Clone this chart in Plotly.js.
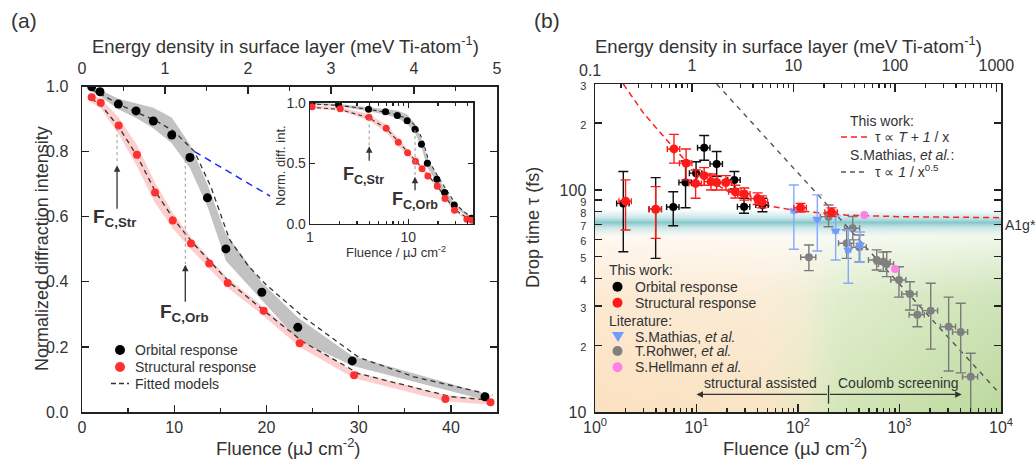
<!DOCTYPE html>
<html><head><meta charset="utf-8">
<script src="https://cdn.plot.ly/plotly-3.0.1.min.js"></script>
<style>html,body{margin:0;padding:0;background:#fff}#chart{width:1035px;height:464px}</style>
</head><body><div id="chart"></div>
<script>
// ---------------- Panel (a) data ----------------
const fluenceOrb = [1.05, 1.95, 3.94, 5.86, 7.73, 9.73, 11.7, 13.6, 15.6, 19.5, 23.4, 29.3, 43.7];
const orbital    = [0.999, 0.984, 0.946, 0.925, 0.894, 0.851, 0.782, 0.658, 0.501, 0.368, 0.260, 0.157, 0.047];
const orbUpper   = [1.0, 0.99, 0.962, 0.948, 0.935, 0.905, 0.822, 0.70, 0.548, 0.398, 0.29, 0.172, 0.057];
const orbLower   = [0.985, 0.97, 0.93, 0.903, 0.872, 0.826, 0.75, 0.632, 0.465, 0.342, 0.222, 0.142, 0.037];
const fluenceStr = [1.05, 2.03, 3.98, 5.96, 7.92, 9.84, 11.82, 13.8, 15.8, 19.7, 23.6, 29.5, 39.4, 44.3];
const structural = [0.967, 0.950, 0.880, 0.790, 0.674, 0.588, 0.518, 0.456, 0.396, 0.311, 0.211, 0.113, 0.040, 0.030];
const strUpper   = [0.978, 0.962, 0.905, 0.82, 0.705, 0.612, 0.537, 0.472, 0.412, 0.322, 0.226, 0.124, 0.052, 0.04];
const strLower   = [0.95, 0.933, 0.853, 0.755, 0.642, 0.564, 0.5, 0.44, 0.382, 0.295, 0.2, 0.104, 0.033, 0.022];
const fitOrbF    = [1, 2, 4, 6, 8, 10, 12.2, 14, 16, 18, 20, 24, 30, 36, 44.5];
const fitOrb     = [0.99, 0.978, 0.945, 0.92, 0.895, 0.862, 0.80, 0.69, 0.53, 0.45, 0.39, 0.292, 0.168, 0.108, 0.052];
const fitStrF    = [1, 2, 4, 6, 8, 10, 12, 14, 16, 20, 24, 30, 40, 44.5];
const fitStr     = [0.962, 0.945, 0.875, 0.785, 0.675, 0.59, 0.52, 0.458, 0.398, 0.305, 0.215, 0.118, 0.047, 0.036];
const extrapF    = [12.2, 20.4];
const extrapY    = [0.80, 0.663];

// ---------------- Panel (b) data ----------------
const strF    = [2.0, 3.96, 6.0, 7.9, 9.8, 11.9, 13.9, 15.8, 19.5, 24.1, 29.6, 40, 44, 106, 214];
const strTau  = [89, 81.8, 153, 132, 107, 116, 109, 108, 108, 98.2, 95.9, 91.4, 88.3, 83.2, 79.3];
const strHi   = [111, 103.5, 178, 153, 123, 126, 118, 116, 116, 105, 102, 97, 94, 87, 83];
const strLo   = [66, 60.5, 132, 111, 91.7, 105, 100, 100, 100, 92, 90, 86, 83, 79.5, 76];
const orbF    = [1.9, 3.96, 5.9, 7.8, 9.9, 11.9, 15.8, 23.6, 29.4, 44.6];
const orbTau  = [87, 81.8, 83.8, 108, 119, 155, 131, 111, 84.1, 85.6];
const orbHi   = [121, 113.6, 98.2, 135, 134, 176, 149, 121, 91.7, 91.7];
const orbLo   = [52.7, 49.2, 69, 83.2, 105, 136, 115, 101, 78.5, 79.8];
const mathF   = [91, 155, 235, 313, 408];
const mathTau = [80.6, 73.8, 65.4, 53.7, 56.5];
const mathHi  = [105.3, 95, 76.4, 66.1, 64.7];
const mathLo  = [54.1, 53.1, 48.4, 38, 47.4];
const rohF    = [128, 200, 302, 346, 402, 596, 692, 748, 988, 1268, 1500, 2030, 3050, 4010, 5030];
const rohTau  = [49.8, 75.8, 57.5, 67.2, 55.2, 48.4, 47.5, 46.4, 39.3, 34.0, 27.4, 28.6, 24.2, 22.9, 14.4];
const rohHi   = [56.5, 85.6, 66.1, 75.9, 62.7, 53.7, 52.5, 52.7, 45.1, 38.6, 30.3, 38.0, 32.9, 30.9, 18.4];
const rohLo   = [43.3, 68.3, 49.2, 59.6, 47.4, 43.6, 43, 40.7, 32.9, 28.8, 24.2, 19.2, 15.3, 15.0, 9.5];
const hellF   = [450, 903];
const hellTau = [77.1, 44.0];
const fitTF   = [1.9, 3, 5.7, 10, 20, 50, 100, 300, 1000, 10000];
const fitTTau = [300, 222, 158, 120, 99, 85, 80.5, 77, 75.8, 75];
const fitMF   = [15.8, 9400];
const fitMTau = [300, 12.3];

// tick labels
const tauTicks = [10, 20, 30, 40, 50, 60, 70, 80, 90, 100, 200, 300];
const tauTickText = ['10','2','3','4','5','6','7','8','9','100','2','3'];
const flTicksB = [1, 10, 100, 1000, 10000];
const flTickTextB = ['10<sup>0</sup>','10<sup>1</sup>','10<sup>2</sup>','10<sup>3</sup>','10<sup>4</sup>'];
const enTicksB = [0.1, 1, 10, 100, 1000];
const enTickTextB = ['0.1','1','10','100','1000'];
const energyPerFluence = 1 / 9;   // meV Ti-atom^-1 per µJ cm^-2 (5 meV ↔ 45 µJ cm^-2)

// ---------------- helpers ----------------
const W = 1035, H = 464;
const X = px => px / W, Y = py => 1 - py / H;
const FONT = 'Liberation Sans, Arial, sans-serif';
const TXT = '#333', AX = '#222';
const diff = (a, b) => a.map((v, i) => v - b[i]);
function minorLog(lo, hi) { const r = []; for (let d = lo; d < hi * 0.999; d *= 10) for (let k = 2; k <= 9; k++) r.push(d * k); return r; }

function band(xs, up, lo, xa, ya, color) {
  return {x: xs.concat(xs.slice().reverse()), y: up.concat(lo.slice().reverse()), mode: 'lines',
    fill: 'toself', fillcolor: color, line: {width: 0}, xaxis: xa, yaxis: ya, hoverinfo: 'skip'};
}
function line(xs, ys, xa, ya, color, dash, width) {
  return {x: xs, y: ys, mode: 'lines', line: {color, dash, width}, xaxis: xa, yaxis: ya};
}
function pts(xs, ys, xa, ya, color, size, symbol) {
  return {x: xs, y: ys, mode: 'markers', marker: {color, size, symbol: symbol || 'circle'}, xaxis: xa, yaxis: ya};
}
function errPts(xs, ys, hi, lo, color, ecolor, size, symbol, xpct) {
  return {x: xs, y: ys, mode: 'markers', xaxis: 'x4', yaxis: 'y4',
    marker: {color, size, symbol: symbol || 'circle'},
    error_y: {type: 'data', array: diff(hi, ys), arrayminus: diff(ys, lo), color: ecolor, thickness: 1.4, width: 5},
    error_x: {type: 'percent', value: xpct, color: ecolor, thickness: 1.4, width: 3}};
}

const GRAYBAND = 'rgba(150,150,150,0.58)', PINKBAND = 'rgba(250,165,165,0.55)';
const FITC = '#333', FITD = '5px,4px';
const RED = '#ff3030';

const traces = [
  // main (a)
  band(fluenceOrb, orbUpper, orbLower, 'x', 'y', GRAYBAND),
  band(fluenceStr, strUpper, strLower, 'x', 'y', PINKBAND),
  line(fitOrbF, fitOrb, 'x', 'y', FITC, FITD, 1.3),
  line(fitStrF, fitStr, 'x', 'y', FITC, FITD, 1.3),
  line(extrapF, extrapY, 'x', 'y', '#1f2ef0', '7px,5px', 1.5),
  pts(fluenceOrb, orbital, 'x', 'y', '#000', 9),
  pts(fluenceStr, structural, 'x', 'y', RED, 8),
  {x: [], y: [], xaxis: 'x2', yaxis: 'y', mode: 'markers'},
  // inset
  band(fluenceOrb, orbUpper, orbLower, 'x3', 'y3', GRAYBAND),
  band(fluenceStr, strUpper, strLower, 'x3', 'y3', PINKBAND),
  line(fitOrbF, fitOrb, 'x3', 'y3', FITC, '4px,3px', 1.1),
  line(fitStrF, fitStr, 'x3', 'y3', FITC, '4px,3px', 1.1),
  pts(fluenceOrb, orbital, 'x3', 'y3', '#000', 7),
  pts(fluenceStr, structural, 'x3', 'y3', RED, 7),
  // panel (b)
  line(fitMF, fitMTau, 'x4', 'y4', '#555', '5px,5px', 1.4),
  line(fitTF, fitTTau, 'x4', 'y4', '#ff2020', '6px,4px', 1.5),
  errPts(rohF, rohTau, rohHi, rohLo, '#808080', '#7a7a7a', 8, 'circle', 17),
  errPts(mathF, mathTau, mathHi, mathLo, '#6f9bff', '#86a9ff', 9, 'triangle-down', 6),
  pts(hellF, hellTau, 'x4', 'y4', '#ff80e8', 8),
  errPts(orbF, orbTau, orbHi, orbLo, '#000', '#111', 8, 'circle', 14),
  errPts(strF, strTau, strHi, strLo, '#ff1a1a', '#ff1a1a', 9, 'circle', 14),
  {x: [], y: [], xaxis: 'x5', yaxis: 'y4', mode: 'markers'}
];
traces.forEach(t => { t.showlegend = false; t.hoverinfo = 'skip'; });

// background gradients for panel (b)
function gradA() {
  const c = document.createElement('canvas'); c.width = 400; c.height = 200;
  const g = c.getContext('2d');
  const hg = g.createLinearGradient(0, 0, 400, 0);
  hg.addColorStop(0, '#fce1c0'); hg.addColorStop(0.42, '#f9e5c6'); hg.addColorStop(0.52, '#ebe8c4');
  hg.addColorStop(0.6, '#d4e7b9'); hg.addColorStop(1, '#bcd99d');
  g.fillStyle = hg; g.fillRect(0, 0, 400, 200);
  const vg = g.createLinearGradient(0, 0, 0, 200);
  vg.addColorStop(0, 'rgba(255,255,255,1)'); vg.addColorStop(0.12, 'rgba(255,255,255,0.75)');
  vg.addColorStop(0.4, 'rgba(255,255,255,0.3)'); vg.addColorStop(1, 'rgba(255,255,255,0)');
  g.fillStyle = vg; g.fillRect(0, 0, 400, 200);
  return c.toDataURL();
}
function gradB() {
  const c = document.createElement('canvas'); c.width = 10; c.height = 100;
  const g = c.getContext('2d');
  const vg = g.createLinearGradient(0, 0, 0, 100);
  vg.addColorStop(0, 'rgba(160,214,216,0)'); vg.addColorStop(0.3, 'rgba(150,208,212,0.45)');
  vg.addColorStop(0.5, 'rgba(120,192,198,0.9)'); vg.addColorStop(0.7, 'rgba(150,208,212,0.45)');
  vg.addColorStop(1, 'rgba(160,214,216,0)');
  g.fillStyle = vg; g.fillRect(0, 0, 10, 100);
  return c.toDataURL();
}

const tf = s => ({family: FONT, size: s, color: TXT});
const baseAx = {showline: true, linecolor: AX, linewidth: 1.5, ticks: 'inside', tickcolor: AX, tickwidth: 1.3,
  showgrid: false, zeroline: false, tickfont: tf(16), fixedrange: true};

const layout = {
  width: W, height: H, margin: {l: 0, r: 0, t: 0, b: 0},
  paper_bgcolor: '#fff', plot_bgcolor: 'rgba(0,0,0,0)', font: {family: FONT, color: TXT},
  showlegend: false, hovermode: false,
  xaxis: Object.assign({}, baseAx, {domain: [X(82), X(497)], range: [0, 45], anchor: 'y', mirror: true,
    tickvals: [0, 10, 20, 30, 40], ticklen: 7, ticklabelstandoff: 0,
    minor: {tickvals: [5, 15, 25, 35, 45], ticks: 'inside', ticklen: 4, tickcolor: AX}}),
  xaxis2: Object.assign({}, baseAx, {overlaying: 'x', side: 'top', anchor: 'y', range: [0, 45 * energyPerFluence],
    tickvals: [0, 1, 2, 3, 4, 5], ticklen: 7, ticklabelstandoff: 5,
    minor: {tickvals: [0.5, 1.5, 2.5, 3.5, 4.5], ticks: 'inside', ticklen: 4, tickcolor: AX}}),
  yaxis: Object.assign({}, baseAx, {domain: [Y(412), Y(86.5)], range: [0, 1], anchor: 'x', mirror: 'ticks',
    tickvals: [0, 0.2, 0.4, 0.6, 0.8, 1.0], tickformat: '.1f', ticklen: 7, ticklabelstandoff: 9}),
  xaxis3: Object.assign({}, baseAx, {type: 'log', domain: [X(310), X(473.3)], range: [0, Math.log10(45.8)],
    anchor: 'y3', mirror: 'ticks', linewidth: 1.3, tickvals: [1, 10], ticktext: ['1', '10'], ticklen: 5,
    tickfont: tf(14), minor: {tickvals: minorLog(1, 50).filter(v => v < 46), ticks: 'inside', ticklen: 3, tickcolor: AX}}),
  yaxis3: Object.assign({}, baseAx, {domain: [Y(224), Y(102.7)], range: [0, 1], anchor: 'x3', mirror: 'ticks',
    linewidth: 1.3, tickvals: [0, 0.5, 1], tickformat: '.1f', ticklen: 5, tickfont: tf(14)}),
  xaxis4: Object.assign({}, baseAx, {type: 'log', domain: [X(595), X(1001)], range: [0, 4], anchor: 'y4',
    mirror: true, tickvals: flTicksB, ticktext: flTickTextB, ticklen: 8, ticklabelstandoff: 0,
    minor: {tickvals: minorLog(1, 10000), ticks: 'inside', ticklen: 4, tickcolor: AX}}),
  xaxis5: Object.assign({}, baseAx, {type: 'log', overlaying: 'x4', side: 'top', anchor: 'y4',
    range: [Math.log10(energyPerFluence), Math.log10(10000 * energyPerFluence)], tickvals: enTicksB, ticktext: enTickTextB, ticklen: 8,
    ticklabelstandoff: 5, minor: {tickvals: minorLog(0.1, 1000), ticks: 'inside', ticklen: 4, tickcolor: AX}}),
  yaxis4: Object.assign({}, baseAx, {type: 'log', domain: [Y(412), Y(84)], range: [1, Math.log10(300)],
    anchor: 'x4', mirror: 'ticks', tickvals: tauTicks,
    ticktext: tauTickText.map((t, i) => (tauTicks[i] === 10 || tauTicks[i] === 100) ? t : '<span style="font-size:11px">' + t + '</span>'),
    ticklen: 7, ticklabelstandoff: 4}),
  images: [
    {source: gradA(), xref: 'x4 domain', yref: 'y4', x: 0, sizex: 1, xanchor: 'left',
      y: Math.log10(74), sizey: Math.log10(74) - 1, yanchor: 'top', sizing: 'stretch', layer: 'below'},
    {source: gradB(), xref: 'x4 domain', yref: 'y4', x: 0, sizex: 1, xanchor: 'left',
      y: Math.log10(82), sizey: Math.log10(82) - Math.log10(62), yanchor: 'top', sizing: 'stretch', layer: 'below'}
  ],
  annotations: [], shapes: []
};

const A = layout.annotations, S = layout.shapes;
function txt(text, px, py, size, xanchor, extra) {
  A.push(Object.assign({text, x: X(px), y: Y(py), xref: 'paper', yref: 'paper', showarrow: false,
    xanchor: xanchor || 'center', yanchor: 'middle', font: tf(size)}, extra || {}));
}
// panel labels & titles
txt('(a)', 24, 20, 21);
txt('(b)', 547, 20, 21);
const enTitle = 'Energy density in surface layer (meV Ti-atom<sup>-1</sup>)';
txt(enTitle, 285, 45, 18.5);
txt(enTitle, 788, 45, 18.5);
txt('Fluence (µJ cm<sup>-2</sup>)', 288, 447, 18.5);
txt('Fluence (µJ cm<sup>-2</sup>)', 795, 447, 18.5);
txt('Normalized diffraction intensity', 42, 249, 18, 'center', {textangle: -90});
txt('Drop time τ (fs)', 533, 228, 18, 'center', {textangle: -90});
txt('Fluence / µJ cm<sup>-2</sup>', 396, 252, 13);
txt('Norm. diff. int.', 280, 166, 13, 'center', {textangle: -90});
// first top tick label of (b) sits just left of the frame
txt('0.1', 590, 70, 16);

// legend (a)
const legA = [['Orbital response', 350], ['Structural response', 367], ['Fitted models', 383.5]];
legA.forEach(([t, py]) => txt(t, 133, py, 14, 'left'));
function dot(px, py, color, r) {
  S.push({type: 'circle', xref: 'paper', yref: 'paper', xsizemode: 'pixel', ysizemode: 'pixel',
    xanchor: X(px), yanchor: Y(py), x0: -r, x1: r, y0: -r, y1: r, fillcolor: color, line: {width: 0}});
}
function dashSeg(px0, px1, py, color, dash) {
  S.push({type: 'line', xref: 'paper', yref: 'paper', x0: X(px0), x1: X(px1), y0: Y(py), y1: Y(py),
    line: {color, width: 1.5, dash}});
}
dot(120, 350, '#000', 5); dot(120, 367, RED, 5);
dashSeg(111, 129, 383.5, '#333', '5px,3px');

// legend (b) bottom
txt('This work:', 607, 270, 14, 'left');
txt('Orbital response', 633, 286.7, 14, 'left');
txt('Structural response', 633, 302.7, 14, 'left');
txt('Literature:', 607, 320.7, 14, 'left');
txt('S.Mathias, <i>et al.</i>', 633, 336.5, 14, 'left');
txt('T.Rohwer, <i>et al.</i>', 633, 351, 14, 'left');
txt('S.Hellmann <i>et al.</i>', 633, 367.3, 14, 'left');
dot(617.5, 286.7, '#000', 5); dot(617.5, 302.7, '#ff1a1a', 5);
S.push({type: 'path', xref: 'paper', yref: 'paper', xsizemode: 'pixel', ysizemode: 'pixel',
  xanchor: X(618), yanchor: Y(336), path: 'M-6,4L6,4L0,-6Z', fillcolor: '#6f9bff', line: {width: 0}});
dot(617.5, 351, '#808080', 5); dot(617.5, 367.3, '#ff80e8', 5);

// legend (b) top
txt('This work:', 848, 120.7, 14, 'left');
txt('τ ∝ <i>T</i> + <i>1</i> / x', 873, 137, 14, 'left');
txt('S.Mathias, <i>et al.</i>:', 848, 155, 14, 'left');
txt('τ ∝ <i>1</i> / x<sup>0.5</sup>', 873, 171, 14, 'left');
dashSeg(841, 868, 137, '#ff2020', '6px,4px');
dashSeg(841, 868, 172, '#555', '5px,4px');

// A1g* label
txt('A1g*', 1003, 225, 14, 'left');

// region labels and arrows (b)
txt('structural assisted', 760, 383, 14);
txt('Coulomb screening', 898, 383, 14);
const arrowY = Math.log10(12.0);
[[1.0, 2.3], [Math.log10(4100), 2.3]].forEach(([hx, tx]) => A.push({x: hx, y: arrowY, ax: tx, ay: arrowY,
  xref: 'x4', yref: 'y4', axref: 'x4', ayref: 'y4', text: '', showarrow: true, arrowhead: 2, arrowsize: 1,
  arrowwidth: 1.3, arrowcolor: '#333'}));
S.push({type: 'line', xref: 'x4', yref: 'y4', x0: 200, x1: 200, y0: 10.9, y1: 13.2, line: {color: '#333', width: 1.3}});

// F_C annotations
function fc(sub, x, y, xa, ya, size) {
  A.push({text: '<b>F</b><sub><b>' + sub + '</b></sub>', x, y, xref: xa, yref: ya, showarrow: false,
    xanchor: 'center', yanchor: 'middle', font: {family: FONT, size, color: TXT}});
}
function arrow(x, yHead, yTail, xa, ya) {
  A.push({x, y: yHead, ax: x, ay: yTail, xref: xa, yref: ya, axref: xa, ayref: ya, text: '', showarrow: true,
    arrowhead: 2, arrowsize: 1, arrowwidth: 1.3, arrowcolor: '#333'});
}
function dotted(x, y0, y1, xa, ya) {
  S.push({type: 'line', xref: xa, yref: ya, x0: x, x1: x, y0, y1, line: {color: '#999', width: 1, dash: 'dot'}});
}
dotted(3.8, 0.872, 0.76, 'x', 'y'); arrow(3.8, 0.758, 0.62, 'x', 'y'); fc('C,Str', 3.5, 0.595, 'x', 'y', 19);
dotted(11.2, 0.775, 0.455, 'x', 'y'); arrow(11.2, 0.452, 0.334, 'x', 'y'); fc('C,Orb', 11.06, 0.305, 'x', 'y', 19);
// inset
dotted(4, 0.87, 0.64, 'x3', 'y3'); arrow(Math.log10(4), 0.64, 0.51, 'x3', 'y3'); fc('C,Str', Math.log10(3.5), 0.40, 'x3', 'y3', 18);
dotted(11.7, 0.775, 0.39, 'x3', 'y3'); arrow(Math.log10(11.7), 0.39, 0.266, 'x3', 'y3'); fc('C,Orb', Math.log10(11.7), 0.195, 'x3', 'y3', 18);

Plotly.newPlot('chart', traces, layout, {staticPlot: true, displayModeBar: false});
</script></body></html>
